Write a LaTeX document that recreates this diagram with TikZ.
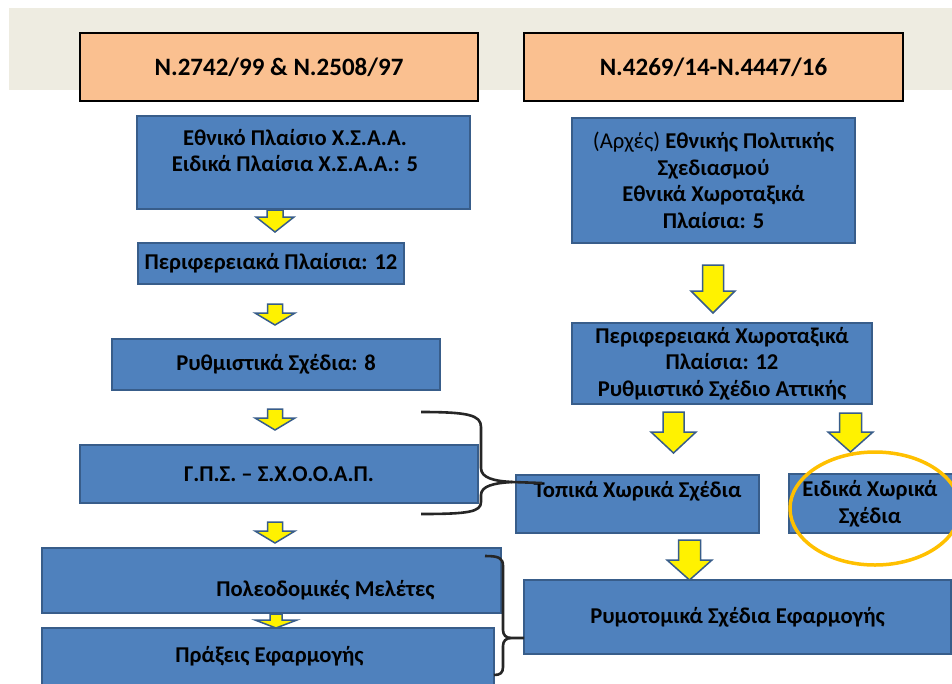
\documentclass[tikz,border=0pt]{standalone}
\usepackage{fontspec}
\setmainfont{Carlito}
\usepackage{tikz}
\usetikzlibrary{positioning}

\definecolor{boxblue}{HTML}{4F81BD}
\definecolor{boxline}{HTML}{385D8A}
\definecolor{lawfill}{HTML}{FAC090}
\definecolor{bandtan}{HTML}{EEECE1}
\definecolor{ringgold}{HTML}{FFC000}
\definecolor{bracegray}{HTML}{262626}

% block arrow: x, top, head start, tip, shaft half width, head half width
\newcommand{\yarrow}[6]{%
    \draw[yarr] (#1-#6,#3) -- (#1-#5,#3) -- (#1-#5,#2) -- (#1+#5,#2)
        -- (#1+#5,#3) -- (#1+#6,#3) -- (#1,#4) -- cycle;
}

\begin{document}
\begin{tikzpicture}[x=1pt,y=-1pt,
        planbox/.style={draw=boxline, line width=1.5pt, fill=boxblue, inner sep=0pt,
            align=center, font=\bfseries\fontsize{22.6}{26.5}\selectfont},
        lawbox/.style={draw=black, line width=2pt, fill=lawfill, inner sep=0pt,
            font=\bfseries\fontsize{25}{28}\selectfont},
        txt/.style={align=center, inner sep=0pt, font=\bfseries\fontsize{22.6}{26.5}\selectfont},
        yarr/.style={draw=boxline, line width=1.5pt, fill=yellow, line join=miter},
        brace/.style={draw=bracegray, line width=2.6pt}]
        \clip (0,0) rectangle (952,683);
        \fill[white] (0,0) rectangle (952,683);
        \fill[bandtan] (9,8) rectangle (952,90);

        % headers
        \node[lawbox, minimum width=398, minimum height=68] (law1) at (279,67) {N.2742/99 \& N.2508/97};
        \node[lawbox, minimum width=379, minimum height=68] (law2) at (713.5,67) {N.4269/14-N.4447/16};

        % left column
        \node[planbox, minimum width=333, minimum height=93] (nat1) at (303.5,162.5) {};
        \node[txt] at (295,150.5) {Εθνικό Πλαίσιο Χ.Σ.Α.Α.\\Ειδικά Πλαίσια Χ.Σ.Α.Α.: 5};
        \node[planbox, minimum width=266, minimum height=41] (reg1) at (271,263.5) {Περιφερειακά Πλαίσια: 12};
        \node[planbox, minimum width=328, minimum height=51] (ryth) at (276,364.5) {Ρυθμιστικά Σχέδια: 8};
        \node[planbox, minimum width=398, minimum height=58] (gps) at (279,474) {Γ.Π.Σ. – Σ.Χ.Ο.Ο.Α.Π.};
        \node[planbox, minimum width=459, minimum height=65] (poleo) at (271.5,580.5) {};
        \node[txt] at (325.5,590) {Πολεοδομικές Μελέτες};
        \node[planbox, minimum width=452, minimum height=72] (praxeis) at (268,664) {};
        \node[txt] at (269.5,656) {Πράξεις Εφαρμογής};

        % right column
        \node[planbox, minimum width=283, minimum height=125] (nat2) at (713.5,180.5)
            {{\mdseries (Αρχές)} Εθνικής Πολιτικής\\Σχεδιασμού\\Εθνικά Χωροταξικά\\Πλαίσια: 5};
        \node[planbox, minimum width=300, minimum height=81] (reg2) at (722,363.5)
            {Περιφερειακά Χωροταξικά\\Πλαίσια: 12\\Ρυθμιστικό Σχέδιο Αττικής};
        \node[planbox, minimum width=243, minimum height=58] (topika) at (637.5,504) {};
        \node[txt] at (637.5,491) {Τοπικά Χωρικά Σχέδια};
        \node[planbox, minimum width=171, minimum height=59] (eidika) at (874.5,503.5) {};
        \node[txt] at (870,504) {Ειδικά Χωρικά\\Σχέδια};
        \node[planbox, minimum width=427, minimum height=74] (rymo) at (737.5,617) {Ρυμοτομικά Σχέδια Εφαρμογής};

        % arrows
        \yarrow{275}{210}{217}{232}{8}{19}
        \yarrow{275}{304}{313}{325}{7.5}{20}
        \yarrow{275}{409}{418}{430}{7.5}{20}
        \yarrow{275}{522}{531}{543}{7.5}{20}
        \yarrow{276}{614}{620}{628}{6}{21}
        \yarrow{713}{265}{291}{313}{10.5}{22}
        \yarrow{673.5}{412}{432}{453}{10.5}{22.5}
        \yarrow{850.5}{413}{432}{452}{11}{22.5}
        \yarrow{689.5}{540}{560}{580}{11}{22.5}

        % braces
        \coordinate (tip1) at (542,483);
        \coordinate (tip2) at (524,638);
        \draw[brace] (421,412) .. controls (468,412) and (481,415) .. (481,427) -- (481,468)
            .. controls (481,478) and (494,481) .. (512,482) -- (tip1);
        \draw[brace] (512,482) .. controls (494,483) and (481,486) .. (481,495) -- (481,502)
            .. controls (481,512) and (468,514) .. (421,514);
        \draw[brace] (485,556) .. controls (499,556) and (503,558) .. (503,566) -- (503,630)
            .. controls (503,635) and (506,638) .. (511,638) -- (tip2);
        \draw[brace] (511,638) .. controls (506,638) and (503,641) .. (503,646) -- (503,667)
            .. controls (503,673) and (500,675) .. (494,675);

        % circled box
        \draw[ringgold, line width=3.5pt] (875,508.5) ellipse [x radius=85, y radius=56.5];
    \end{tikzpicture}
\end{document}
